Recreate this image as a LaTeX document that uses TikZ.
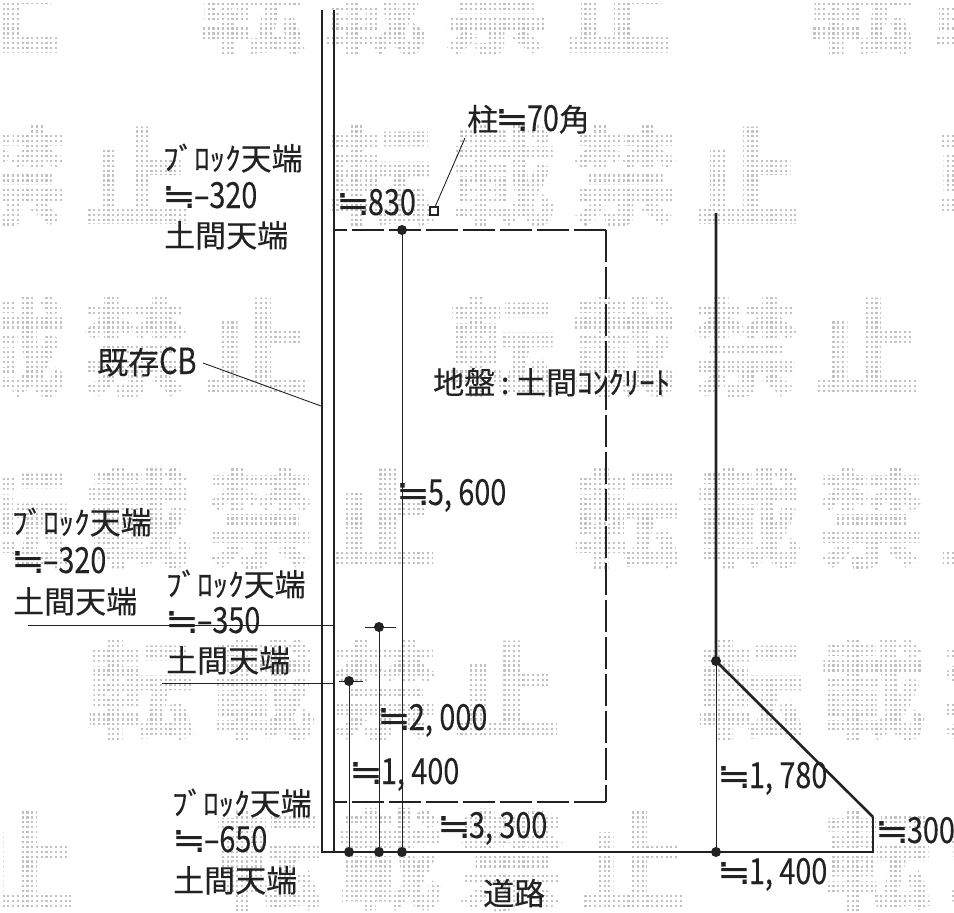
\documentclass[tikz,border=0pt]{standalone}
\usepackage{fontspec}
\newfontfamily\jpf[FakeBold=0.25]{Noto Sans CJK JP}
\newfontfamily\numf[FakeStretch=0.8,FakeBold=0.2]{Noto Sans CJK JP}
\newfontfamily\dvf[FakeStretch=1.15,FakeBold=0.15]{DejaVu Sans}
\newfontfamily\wmf{Noto Sans CJK JP}
\definecolor{ink}{HTML}{222222}
\definecolor{wmgray}{HTML}{C2C2C2}
\newcommand{\jt}[1]{{\jpf\fontsize{31}{31}\selectfont #1}}
\newcommand{\nt}[1]{{\numf\fontsize{36}{36}\selectfont #1}}
\newcommand{\ap}{\kern-3pt{\dvf\fontsize{35}{35}\selectfont ≒}\kern-2pt}
\newcommand{\wmrow}[2]{%
  \foreach \wi/\wc in {0/転,1/載,2/禁,3/止,5/転,6/載,7/禁,8/止,-5/転,-4/載,-3/禁,-2/止}{
    \node[wmark] at ({#2+\wi*122},#1) {\wc};
  }}
\tikzset{
  x=1pt,y=-1pt,
  wmark/.style={inner sep=0pt,text=wmgray,font=\wmf\bfseries\fontsize{108}{108}\selectfont},
  lab/.style={anchor=base west,inner sep=0pt,text=ink},
  wall/.style={draw=ink,line width=2.6pt},
  dimline/.style={draw=ink,line width=0.9pt},
  dashedge/.style={draw=ink,line width=2.5pt,dash pattern=on 32pt off 5pt},
  pt/.style={circle,fill=ink,inner sep=0pt,minimum size=10pt},
}
\begin{document}
\begin{tikzpicture}
\useasboundingbox (0,0) rectangle (954,913);
\clip (0,0) rectangle (954,913);
% watermark
\wmrow{5}{252}
\wmrow{176}{381}
\wmrow{347}{502}
\wmrow{518}{627}
\wmrow{690}{751}
\wmrow{860}{268}
\foreach \i in {0,...,200}{\draw[white,line width=2.6pt] ({1.2+4.77*\i},0) -- ({1.2+4.77*\i},913);}
\foreach \i in {0,...,187}{\draw[white,line width=2.7pt] (0,{1.6+4.9*\i}) -- (954,{1.6+4.9*\i});}
% coordinates
\coordinate (wa) at (322,10); \coordinate (wab) at (322,852);
\coordinate (wb) at (334,10); \coordinate (wbb) at (334,852);
\coordinate (tl) at (334,230); \coordinate (tr) at (606,230);
\coordinate (br) at (606,802); \coordinate (bl) at (334,802);
\coordinate (rt) at (716,213);
\coordinate (se) at (873,852); \coordinate (ne) at (873,817);
\coordinate (la) at (28,625); \coordinate (lae) at (334,625);
\coordinate (lb) at (162,683); \coordinate (lbe) at (334,683);
\coordinate (ta) at (365,627); \coordinate (tae) at (396,627);
\coordinate (tb) at (339,681); \coordinate (tbe) at (363,681);
\coordinate (cba) at (203,363); \coordinate (cbb) at (321,406);
\coordinate (cola) at (465,138); \coordinate (colb) at (435,207);
% walls
\draw[wall] (wa) -- (wab) -- (se) -- (ne);
\draw[wall] (wb) -- (wbb);
\draw[dashedge] (br) -- (bl);
\draw[dashedge] (tr) -- (br);
\draw[dashedge] (tr) -- (tl);
% dots
\node[pt] (d1) at (402,230) {};
\node[pt] (d2) at (402,852) {};
\node[pt] (d3) at (379,627) {};
\node[pt] (d4) at (379,852) {};
\node[pt] (d5) at (349,681) {};
\node[pt] (d6) at (349,852) {};
\node[pt] (d7) at (716,661) {};
\node[pt] (d8) at (716,852) {};
\draw[wall] (rt) -- (d7.center) -- (ne);
\draw[dimline] (d1.center) -- (d2.center);
\draw[dimline] (d3.center) -- (d4.center);
\draw[dimline] (d5.center) -- (d6.center);
\draw[dimline] (d7.center) -- (d8.center);
\draw[dimline] (ta) -- (tae);
\draw[dimline] (tb) -- (tbe);
\draw[dimline] (la) -- (lae);
\draw[dimline] (lb) -- (lbe);
\draw[dimline] (cba) -- (cbb);
\draw[dimline] (cola) -- (colb);
\node[draw=ink,line width=2pt,minimum size=8pt,inner sep=0pt,fill=white] (col) at (433.5,211) {};
% labels
\node[lab] (a1) at (163,170) {\jt{ﾌﾞﾛｯｸ天端}};
\node[lab] (a2) at (165,208) {\ap\nt{–320}};
\node[lab] (a3) at (164,247) {\jt{土間天端}};
\node[lab] (b1) at (12,534) {\jt{ﾌﾞﾛｯｸ天端}};
\node[lab] (b2) at (14,573) {\ap\nt{–320}};
\node[lab] (b3) at (13,613) {\jt{土間天端}};
\node[lab] (c1) at (166,596) {\jt{ﾌﾞﾛｯｸ天端}};
\node[lab] (c2) at (168,633) {\ap\nt{–350}};
\node[lab] (c3) at (166,672) {\jt{土間天端}};
\node[lab] (e1) at (172,815) {\jt{ﾌﾞﾛｯｸ天端}};
\node[lab] (e2) at (175,852) {\ap\nt{–650}};
\node[lab] (e3) at (173,892) {\jt{土間天端}};
\node[lab] (f1) at (339,215) {\ap\nt{830}};
\node[lab] (f2) at (467,131) {\jt{柱}\ap\nt{70}\jt{角}};
\node[lab] (f3) at (97,374) {\jt{既存}\nt{CB}};
\node[lab] (f4) at (433,394) {\jt{地盤\makebox[20pt]{:}土間ｺﾝｸﾘｰﾄ}};
\node[lab] (g1) at (399,505) {\ap\nt{5, 600}};
\node[lab] (g2) at (380,730) {\ap\nt{2, 000}};
\node[lab] (g3) at (352,784) {\ap\nt{1, 400}};
\node[lab] (g4) at (440,838) {\ap\nt{3, 300}};
\node[lab] (g5) at (483,905) {\jt{道路}};
\node[lab] (g6) at (720,788) {\ap\nt{1, 780}};
\node[lab] (g7) at (720,884) {\ap\nt{1, 400}};
\node[lab] (g8) at (878,843) {\ap\nt{300}};
\end{tikzpicture}
\end{document}
